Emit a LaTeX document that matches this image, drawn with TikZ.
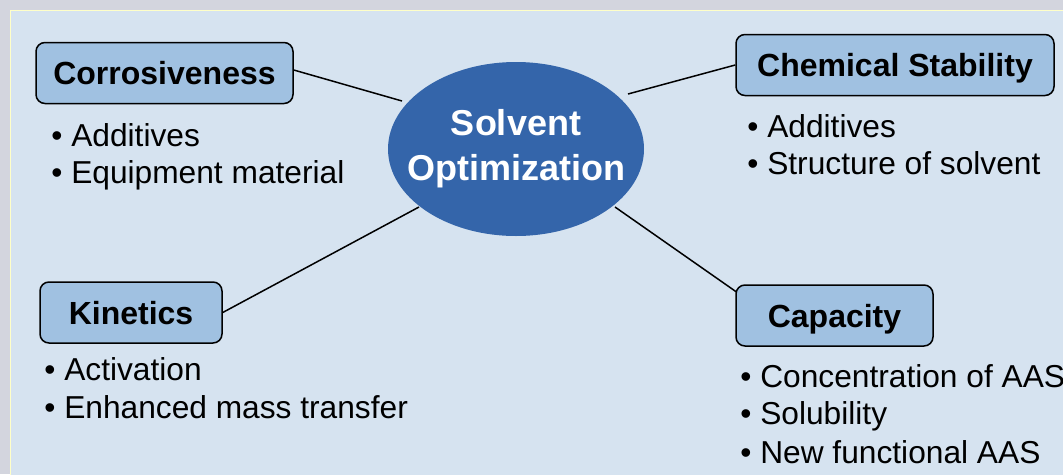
\documentclass[tikz,border=0pt]{standalone}
\usepackage{fontspec}
\setmainfont{Liberation Sans}
\usetikzlibrary{shapes.geometric}
\definecolor{outergray}{RGB}{211,213,222}
\definecolor{panelblue}{RGB}{214,227,240}
\definecolor{panelline}{RGB}{255,255,200}
\definecolor{boxfill}{RGB}{160,193,225}
\definecolor{hubfill}{RGB}{52,101,170}
\tikzset{
  topicbox/.style={draw=black, line width=1.5pt, rounded corners=9pt, fill=boxfill,
    font=\fontsize{32}{38}\selectfont\bfseries, text height=23pt, text depth=0pt,
    inner sep=0pt, minimum height=61pt},
  itemline/.style={anchor=base west, inner sep=0pt, font=\fontsize{31.7}{37.5}\selectfont},
  link/.style={line width=1.5pt, black},
  hub/.style={ellipse, fill=hubfill, inner sep=0pt, minimum width=256pt, minimum height=174pt},
  hubtext/.style={align=center, text=white, inner sep=0pt,
    font=\fontsize{36}{45}\selectfont\bfseries}
}
\begin{document}
\begin{tikzpicture}[x=1pt,y=-1pt]
\clip (0,0) rectangle (1063,474);
\fill[outergray] (0,0) rectangle (1063,474);
\fill[panelblue] (10,10) rectangle (1070,480);
\draw[panelline, line width=1pt] (10,480) -- (10,10) -- (1070,10);

% hub
\node[hub] (hub) at (516,149) {};
\node[hubtext] (hubtext) at (516,148.5) {Solvent\\Optimization};

% topic boxes
\node[topicbox, minimum width=257pt] (corr) at (164.5,73) {Corrosiveness};
\node[topicbox, minimum width=318pt] (chem) at (895,65) {Chemical Stability};
\node[topicbox, minimum width=182pt] (kin) at (131,312.5) {Kinetics};
\node[topicbox, minimum width=197pt] (cap) at (834.5,315.5) {Capacity};

% connector ends near hub
\coordinate (hA) at (402,101);
\coordinate (hB) at (628,94);
\coordinate (hC) at (419,207);
\coordinate (hD) at (615,207);
\coordinate (capIn) at (736.5,292);

\draw[link] ([yshift=3pt]corr.east) -- (hA);
\draw[link] (hB) -- (chem.west);
\draw[link] (hC) -- (kin.east);
\draw[link] (hD) -- (capIn);

% bullet lists
\node[itemline] (c1) at (51.2,146) {• Additives};
\node[itemline] (c2) at (51.2,183) {• Equipment material};

\node[itemline] (s1) at (747.2,137) {• Additives};
\node[itemline] (s2) at (747.2,174) {• Structure of solvent};

\node[itemline] (k1) at (44.2,380) {• Activation};
\node[itemline] (k2) at (44.2,418) {• Enhanced mass transfer};

\node[itemline] (p1) at (740.2,387) {• Concentration of AAS};
\node[itemline] (p2) at (740.2,424) {• Solubility};
\node[itemline] (p3) at (740.2,463) {• New functional AAS};
\end{tikzpicture}
\end{document}
